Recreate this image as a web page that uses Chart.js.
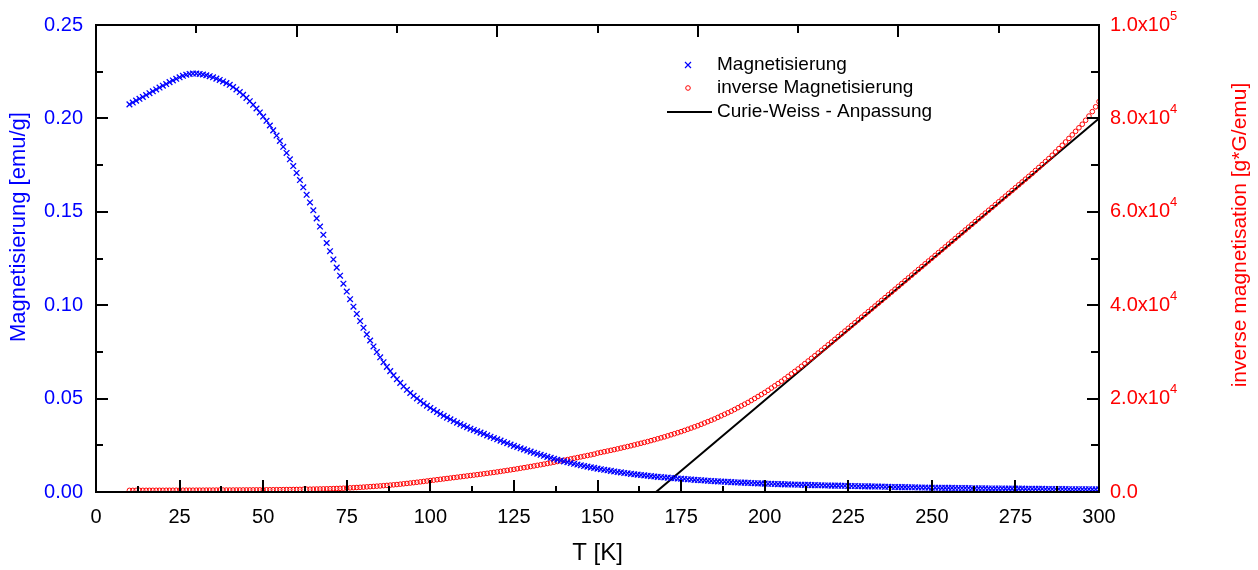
<!DOCTYPE html>
<html><head><meta charset="utf-8">
<script src="https://cdn.jsdelivr.net/npm/chart.js@4/dist/chart.umd.min.js"></script>
<style>html,body{margin:0;padding:0;background:#fff}</style>
</head><body>
<canvas id="c" width="1258" height="570"></canvas>
<script>
// Temperatures [K]
const temperatures = [
10,11,12,13,14,15,16,17,18,19,20,21,22,23,24,25,26,27,28,29,
30,31,32,33,34,35,36,37,38,39,40,41,42,43,44,45,46,47,48,49,
50,51,52,53,54,55,56,57,58,59,60,61,62,63,64,65,66,67,68,69,
70,71,72,73,74,75,76,77,78,79,80,81,82,83,84,85,86,87,88,89,
90,91,92,93,94,95,96,97,98,99,100,101,102,103,104,105,106,107,108,109,
110,111,112,113,114,115,116,117,118,119,120,121,122,123,124,125,126,127,128,129,
130,131,132,133,134,135,136,137,138,139,140,141,142,143,144,145,146,147,148,149,
150,151,152,153,154,155,156,157,158,159,160,161,162,163,164,165,166,167,168,169,
170,171,172,173,174,175,176,177,178,179,180,181,182,183,184,185,186,187,188,189,
190,191,192,193,194,195,196,197,198,199,200,201,202,203,204,205,206,207,208,209,
210,211,212,213,214,215,216,217,218,219,220,221,222,223,224,225,226,227,228,229,
230,231,232,233,234,235,236,237,238,239,240,241,242,243,244,245,246,247,248,249,
250,251,252,253,254,255,256,257,258,259,260,261,262,263,264,265,266,267,268,269,
270,271,272,273,274,275,276,277,278,279,280,281,282,283,284,285,286,287,288,289,
290,291,292,293,294,295,296,297,298,299,300];

// Magnetisierung [emu/g]
const magnetisierung = [
0.2075,0.2085,0.2095,0.2105,0.2115,0.2125,0.2135,0.2145,0.2155,0.2165,
0.2175,0.2184,0.2194,0.2203,0.2212,0.2220,0.2228,0.2234,0.2238,0.2240,
0.2240,0.2238,0.2235,0.2231,0.2226,0.2220,0.2213,0.2206,0.2198,0.2189,
0.2180,0.2168,0.2155,0.2141,0.2126,0.2110,0.2092,0.2073,0.2053,0.2032,
0.2010,0.1987,0.1962,0.1936,0.1908,0.1879,0.1848,0.1815,0.1781,0.1745,
0.1708,0.1670,0.1631,0.1591,0.1550,0.1508,0.1465,0.1421,0.1377,0.1333,
0.1289,0.1245,0.1201,0.1158,0.1115,0.1073,0.1032,0.0992,0.0953,0.0915,
0.0879,0.0844,0.0811,0.0779,0.0749,0.0721,0.0695,0.0670,0.0647,0.0625,
0.0604,0.0584,0.0565,0.0547,0.0530,0.0515,0.0501,0.0487,0.0474,0.0462,
0.0450,0.0439,0.0428,0.0418,0.0408,0.0398,0.0389,0.0380,0.0371,0.0363,
0.0355,0.0347,0.0339,0.0332,0.0325,0.0318,0.0311,0.0303,0.0296,0.0289,
0.0282,0.0275,0.0268,0.0261,0.0254,0.0247,0.0241,0.0234,0.0228,0.0222,
0.0216,0.0210,0.0205,0.0199,0.0194,0.0188,0.0183,0.0178,0.0173,0.0169,
0.0164,0.0160,0.0155,0.0151,0.0147,0.0143,0.0139,0.0136,0.0132,0.0129,
0.0125,0.0122,0.0119,0.0116,0.0113,0.0110,0.0107,0.0105,0.0102,0.0100,
0.0097,0.0095,0.0093,0.0091,0.0089,0.0087,0.0085,0.0083,0.0081,0.0080,
0.0078,0.0077,0.0075,0.0074,0.0072,0.0071,0.0070,0.0068,0.0067,0.0065,
0.0064,0.0063,0.0062,0.0060,0.0059,0.0058,0.0057,0.0056,0.0055,0.0054,
0.0053,0.0052,0.0051,0.0050,0.0050,0.0049,0.0048,0.0047,0.0046,0.0046,
0.0045,0.0044,0.0044,0.0043,0.0042,0.0042,0.0041,0.0041,0.0040,0.0040,
0.0039,0.0039,0.0038,0.0038,0.0037,0.0037,0.0036,0.0036,0.0035,0.0035,
0.0034,0.0034,0.0034,0.0033,0.0033,0.0032,0.0032,0.0032,0.0031,0.0031,
0.0030,0.0030,0.0030,0.0029,0.0029,0.0029,0.0028,0.0028,0.0027,0.0027,
0.0026,0.0026,0.0026,0.0025,0.0025,0.0025,0.0024,0.0024,0.0024,0.0023,
0.0023,0.0023,0.0023,0.0022,0.0022,0.0022,0.0022,0.0021,0.0021,0.0021,
0.0021,0.0021,0.0020,0.0020,0.0020,0.0020,0.0020,0.0019,0.0019,0.0019,
0.0019,0.0019,0.0018,0.0018,0.0018,0.0018,0.0018,0.0018,0.0017,0.0017,
0.0017,0.0017,0.0017,0.0017,0.0016,0.0016,0.0016,0.0016,0.0016,0.0016,
0.0016,0.0015,0.0015,0.0015,0.0015,0.0015,0.0015,0.0015,0.0014,0.0014,
0.0014];

// inverse Magnetisierung [g*G/emu]
const inverseMagnetisierung = [
350,352,354,356,358,360,362,364,366,368,
370,372,374,376,378,380,382,384,386,388,
390,393,396,399,402,405,408,411,414,417,
420,424,428,432,436,440,445,450,455,460,
465,472,479,486,493,500,510,520,530,540,
550,563,576,590,605,620,636,652,668,684,
700,728,756,784,815,850,888,926,966,1007,
1050,1098,1146,1196,1247,1300,1358,1416,1476,1537,
1600,1678,1756,1836,1917,2000,2088,2176,2266,2357,
2450,2540,2630,2720,2810,2900,2990,3080,3170,3260,
3350,3440,3530,3620,3710,3800,3900,4000,4100,4200,
4300,4410,4520,4630,4740,4850,4970,5090,5210,5330,
5450,5580,5710,5840,5970,6100,6240,6380,6520,6660,
6800,6944,7088,7232,7376,7520,7666,7812,7958,8104,
8325,8475,8625,8775,8925,9075,9240,9405,9570,9735,
9900,10080,10260,10440,10620,10800,11000,11200,11400,11600,
11800,12025,12250,12475,12700,12925,13180,13435,13690,13945,
14200,14490,14780,15070,15360,15650,15980,16310,16640,16970,
17300,17675,18050,18425,18800,19175,19600,20025,20450,20875,
21300,21780,22260,22740,23220,23700,24230,24760,25290,25820,
26350,26915,27480,28045,28610,29175,29760,30345,30930,31515,
32100,32690,33280,33870,34460,35050,35644,36238,36832,37426,
38020,38620,39220,39820,40420,41020,41622,42224,42826,43428,
44030,44634,45238,45842,46446,47050,47652,48254,48856,49458,
50060,50664,51268,51872,52476,53080,53684,54288,54892,55496,
56100,56704,57308,57912,58516,59120,59724,60328,60932,61536,
62140,62744,63348,63952,64556,65160,65768,66376,66984,67592,
68200,68840,69480,70120,70760,71400,72110,72820,73530,74240,
74950,75710,76470,77230,77990,78750,79600,80500,81450,82480,
83600];

// Curie-Weiss fit line end points
const fitT = [167.5, 300];
const fitValues = [0, 80000];

// Axis tick values
const xTicks = [0,25,50,75,100,125,150,175,200,225,250,275,300];
const yTicks = [0,0.05,0.10,0.15,0.20,0.25];
const y2Ticks = [0,20000,40000,60000,80000,100000];

const legendLabels = ['Magnetisierung','inverse Magnetisierung','Curie-Weiss - Anpassung'];

const FONT = "'Liberation Sans', Arial, sans-serif";
const BLUE = '#0000ff', RED = '#ff0000';

const decorPlugin = {
  id: 'decor',
  afterDraw(chart) {
    const c = chart.ctx, a = chart.chartArea;
    const sx = chart.scales.x, sy = chart.scales.y, sy2 = chart.scales.y2;
    c.save();
    c.strokeStyle = '#000'; c.lineWidth = 2; c.lineCap = 'butt';
    c.strokeRect(a.left, a.top, a.right - a.left, a.bottom - a.top);
    c.beginPath();
    for (let v = 0; v <= 300.001; v += 12.5) {
      const px = Math.round(sx.getPixelForValue(v));
      const len = (Math.abs(v % 25) < 1e-6) ? 12 : 6;
      c.moveTo(px, a.bottom); c.lineTo(px, a.bottom - len);
    }
    for (let v = 0; v <= 300.001; v += 30) {
      const px = Math.round(sx.getPixelForValue(v));
      const len = (Math.abs(v % 60) < 1e-6) ? 12 : 8;
      c.moveTo(px, a.top); c.lineTo(px, a.top + len);
    }
    for (let i = 0; i <= 10; i++) {
      const py = Math.round(sy.getPixelForValue(i * 0.025));
      const len = (i % 2 === 0) ? 12 : 7;
      c.moveTo(a.left, py); c.lineTo(a.left + len, py);
    }
    for (let i = 0; i <= 10; i++) {
      const py = Math.round(sy2.getPixelForValue(i * 10000));
      const len = (i % 2 === 0) ? 12 : 8;
      c.moveTo(a.right, py); c.lineTo(a.right - len, py);
    }
    c.stroke();

    c.font = '20px ' + FONT;
    sy2.ticks.forEach(t => {
      if (t.value === 0) return;
      const base = (t.value >= 100000 ? t.value / 100000 : t.value / 10000).toFixed(1) + 'x10';
      const w = c.measureText(base).width;
      const exp = t.value >= 100000 ? '5' : '4';
      const py = sy2.getPixelForValue(t.value);
      c.save();
      c.font = '13px ' + FONT; c.fillStyle = RED; c.textBaseline = 'middle'; c.textAlign = 'left';
      c.fillText(exp, a.right + 11 + w, py - 9);
      c.restore();
    });

    c.textAlign = 'center'; c.textBaseline = 'middle';
    c.fillStyle = BLUE; c.font = '22px ' + FONT;
    c.save(); c.translate(19, 227); c.rotate(-Math.PI / 2);
    c.fillText('Magnetisierung [emu/g]', 0, 0); c.restore();
    c.fillStyle = RED; c.font = '21px ' + FONT;
    c.save(); c.translate(1240, 235); c.rotate(-Math.PI / 2);
    c.fillText('inverse magnetisation [g*G/emu]', 0, 0); c.restore();
    c.fillStyle = '#000'; c.font = '24px ' + FONT;
    c.fillText('T [K]', (a.left + a.right) / 2, 553);

    c.textAlign = 'left'; c.font = '19px ' + FONT; c.fillStyle = '#000';
    const lx = 688, rows = [65, 88, 112];
    c.strokeStyle = BLUE; c.lineWidth = 1.2;
    c.beginPath();
    c.moveTo(lx - 3, rows[0] - 3); c.lineTo(lx + 3, rows[0] + 3);
    c.moveTo(lx - 3, rows[0] + 3); c.lineTo(lx + 3, rows[0] - 3);
    c.stroke();
    c.strokeStyle = RED; c.lineWidth = 1;
    c.beginPath(); c.arc(lx, rows[1], 2.3, 0, Math.PI * 2); c.stroke();
    c.strokeStyle = '#000'; c.lineWidth = 2;
    c.beginPath(); c.moveTo(667, rows[2]); c.lineTo(712, rows[2]); c.stroke();
    legendLabels.forEach((s, i) => c.fillText(s, 717, rows[i]));
    c.restore();
  }
};

new Chart(document.getElementById('c').getContext('2d'), {
  type: 'scatter',
  data: {
    datasets: [
      {
        label: legendLabels[0],
        data: temperatures.map((t, i) => ({ x: t, y: magnetisierung[i] })),
        yAxisID: 'y', pointStyle: 'crossRot', pointRadius: 4,
        borderColor: BLUE, backgroundColor: BLUE, borderWidth: 1.3, showLine: false
      },
      {
        label: legendLabels[1],
        data: temperatures.map((t, i) => ({ x: t, y: inverseMagnetisierung[i] })),
        yAxisID: 'y2', pointStyle: 'circle', pointRadius: 2.3,
        borderColor: RED, backgroundColor: 'rgba(255,255,255,0)', borderWidth: 1, showLine: false
      },
      {
        label: legendLabels[2],
        data: fitT.map((t, i) => ({ x: t, y: fitValues[i] })),
        yAxisID: 'y2', showLine: true, pointRadius: 0,
        borderColor: '#000', borderWidth: 2, fill: false
      }
    ]
  },
  options: {
    responsive: false, animation: false, devicePixelRatio: 1,
    layout: { padding: { top: 24, left: 0, right: 0, bottom: 0 } },
    plugins: { legend: { display: false }, tooltip: { enabled: false } },
    scales: {
      x: {
        type: 'linear', position: 'bottom', min: 0, max: 300,
        afterFit(s) { s.height = 78; },
        afterBuildTicks(s) { s.ticks = xTicks.map(v => ({ value: v })); },
        ticks: { font: { family: FONT, size: 20 }, color: '#000', padding: 13, maxRotation: 0, autoSkip: false,
                 callback: v => String(v) },
        grid: { display: false, drawTicks: false }, border: { display: false }
      },
      y: {
        type: 'linear', position: 'left', min: 0, max: 0.25,
        afterFit(s) { s.width = 96; },
        afterBuildTicks(s) { s.ticks = yTicks.map(v => ({ value: v })); },
        ticks: { font: { family: FONT, size: 20 }, color: BLUE, padding: 13, autoSkip: false,
                 callback: v => v.toFixed(2) },
        grid: { display: false, drawTicks: false }, border: { display: false }
      },
      y2: {
        type: 'linear', position: 'right', min: 0, max: 100000,
        afterFit(s) { s.width = 159; },
        afterBuildTicks(s) { s.ticks = y2Ticks.map(v => ({ value: v })); },
        ticks: { font: { family: FONT, size: 20 }, color: RED, padding: 11, autoSkip: false,
                 callback: v => v === 0 ? '0.0' : (v >= 100000 ? v / 100000 : v / 10000).toFixed(1) + 'x10' },
        grid: { display: false, drawTicks: false }, border: { display: false }
      }
    }
  },
  plugins: [decorPlugin]
});
</script>
</body></html>
